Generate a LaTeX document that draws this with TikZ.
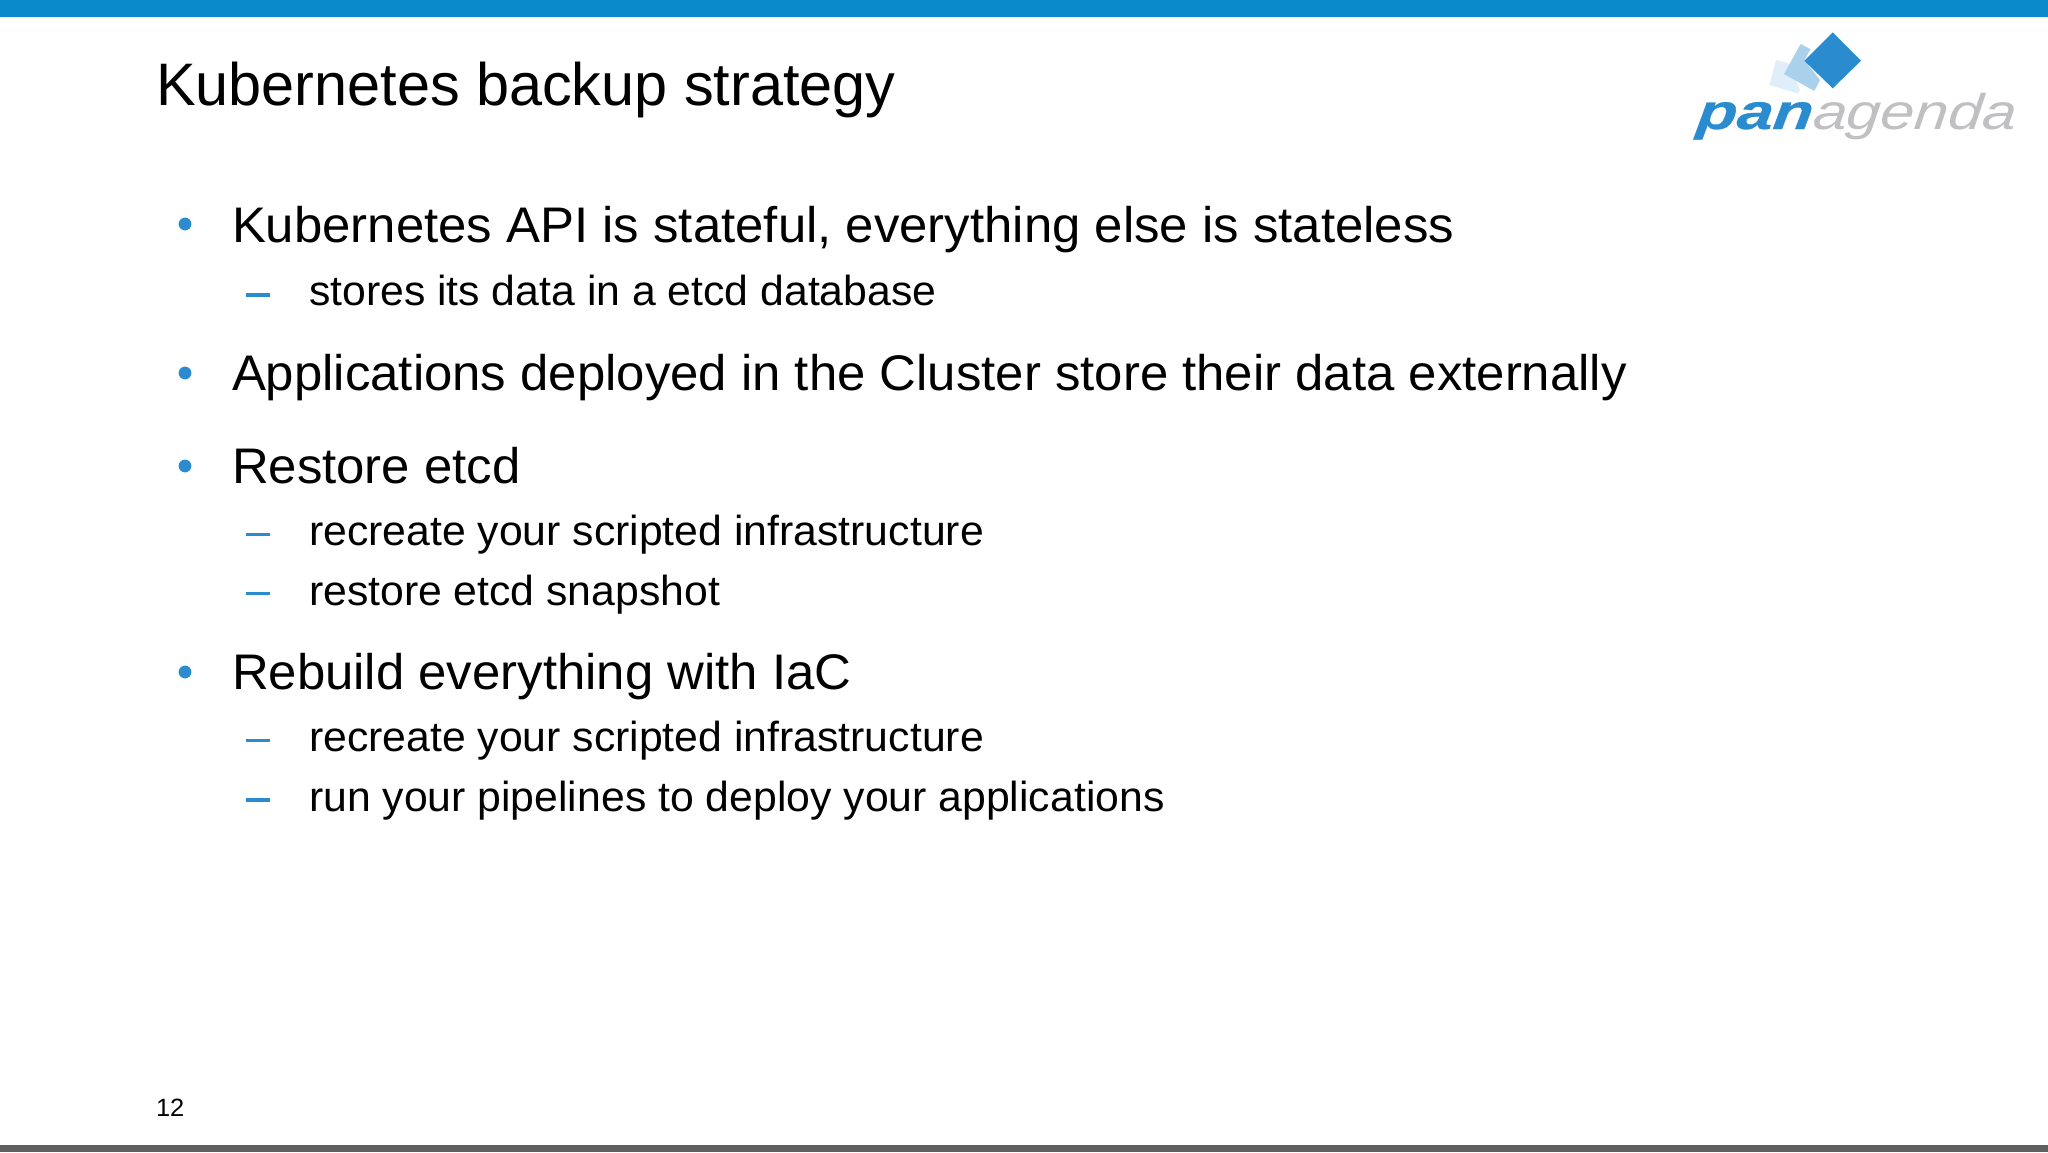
\documentclass[tikz,border=0pt]{standalone}
\usepackage{fontspec}
\setmainfont{Liberation Sans}
\newfontfamily\titlefont[FakeStretch=0.99]{Liberation Sans}
\newfontfamily\bodyfont[FakeStretch=1.018]{Liberation Sans}
\newfontfamily\panfont[FakeStretch=1.3,FakeSlant=0.12,FakeBold=0.6]{Liberation Sans Bold Italic}
\newfontfamily\agendafont[FakeStretch=1.22,FakeSlant=0.1]{Liberation Sans Italic}
\definecolor{topblue}{HTML}{0A8ACB}
\definecolor{botgrey}{HTML}{5F5F5F}
\definecolor{accent}{HTML}{2A8CCF}
\definecolor{logogrey}{HTML}{C0C0C2}
\tikzset{
  x=1pt,y=-1pt,
  txt/.style={anchor=base west,inner sep=0pt,outer sep=0pt,text=black},
  titletxt/.style={txt,font=\titlefont\fontsize{60}{60}\selectfont},
  lone/.style={txt,font=\bodyfont\fontsize{50}{50}\selectfont},
  ltwo/.style={txt,font=\bodyfont\fontsize{42}{42}\selectfont},
  pagetxt/.style={txt,font=\bodyfont\fontsize{25}{25}\selectfont},
  dashmark/.style={draw=accent,line width=3.1pt},
}
\newcommand{\bul}[1]{\fill[accent] (185,#1) circle (6.4);}
\newcommand{\dsh}[1]{\draw[dashmark] (246,#1) -- (270,#1);}
\begin{document}
\begin{tikzpicture}
\useasboundingbox (0,0) rectangle (2048,1152);
\fill[white] (0,0) rectangle (2048,1152);
\fill[topblue] (0,0) rectangle (2048,17);
\fill[botgrey] (0,1145) rectangle (2048,1152);

\node[titletxt] (title) at (156,105) {Kubernetes backup strategy};

\bul{224}
\node[lone] (a) at (232,242) {Kubernetes API is stateful, everything else is stateless};
\dsh{295}
\node[ltwo] (a1) at (309,305) {stores its data in a etcd database};
\bul{373}
\node[lone] (b) at (232,390) {Applications deployed in the Cluster store their data externally};
\bul{466}
\node[lone] (c) at (232,483) {Restore etcd};
\dsh{534.5}
\node[ltwo] (c1) at (309,545) {recreate your scripted infrastructure};
\dsh{593.5}
\node[ltwo] (c2) at (309,605) {restore etcd snapshot};
\bul{672}
\node[lone] (d) at (232,689) {Rebuild everything with IaC};
\dsh{740.5}
\node[ltwo] (d1) at (309,751) {recreate your scripted infrastructure};
\dsh{800}
\node[ltwo] (d2) at (309,811) {run your pipelines to deploy your applications};

\node[pagetxt] (num) at (156,1116) {12};

% logo
\fill[accent!15!white] (1776,60) -- (1788,63) -- (1800,90) -- (1798,93.5) -- (1769.5,85) -- cycle;
\fill[accent!40!white] (1800.7,44) -- (1810.7,49.3) -- (1804.3,60) -- (1820,80) -- (1814.3,91) -- (1784,74) -- cycle;
\fill[accent] (1832.7,32.3) -- (1861,60.7) -- (1832.7,88.3) -- (1804.3,60.7) -- cycle;
\node[txt,text=accent,font=\panfont\fontsize{50}{50}\selectfont] (pan) at (1696,129) {pan};
\node[txt,text=logogrey,font=\agendafont\fontsize{50}{50}\selectfont] (agenda) at (1812,129) {agenda};
\end{tikzpicture}
\end{document}
